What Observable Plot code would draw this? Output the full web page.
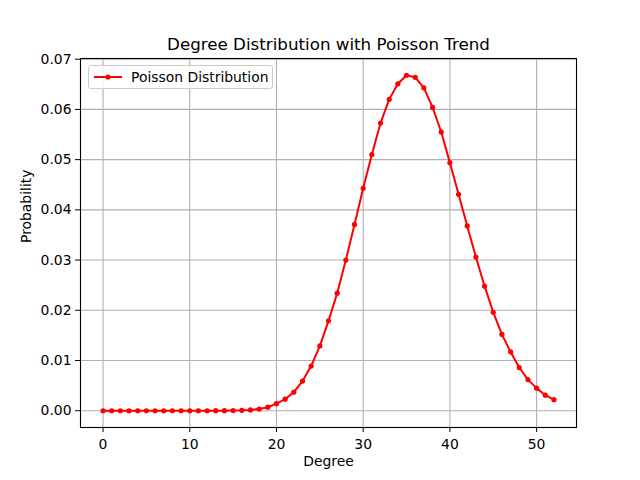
<!DOCTYPE html>
<html>
<head>
<meta charset="utf-8">
<script src="https://cdn.jsdelivr.net/npm/d3@7"></script>
<script src="https://cdn.jsdelivr.net/npm/@observablehq/plot@0.6"></script>
<style>
  body { margin: 0; background: white; }
  #wrap { position: relative; width: 640px; height: 480px; font-family: "DejaVu Sans", sans-serif; }
  #legend { position: absolute; left: 88px; top: 65px; width: 185px; height: 24px; border: 1px solid #cccccc; border-radius: 3px; background: rgba(255,255,255,0.8); box-sizing: border-box; }
  #legend svg { position: absolute; left: 4px; top: 4px; }
  #legend span { position: absolute; left: 42px; top: 3px; font-size: 13.9px; color: #000; white-space: nowrap; }
</style>
</head>
<body>
<div id="wrap"><div id="chart"></div>
<div id="legend"><svg width="30" height="14"><line x1="1" y1="7" x2="29" y2="7" stroke="red" stroke-width="2"/><circle cx="15" cy="7" r="2.6" fill="red"/></svg><span>Poisson Distribution</span></div>
</div>
<script>
const title = "Degree Distribution with Poisson Trend";
const xLabel = "Degree";
const yLabel = "Probability";
const seriesName = "Poisson Distribution";
const degrees = [0,1,2,3,4,5,6,7,8,9,10,11,12,13,14,15,16,17,18,19,20,21,22,23,24,25,26,27,28,29,30,31,32,33,34,35,36,37,38,39,40,41,42,43,44,45,46,47,48,49,50,51,52];
const probabilities = [
  0, 0, 0, 0, 0, 0, 0, 0, 0, 0,
  0, 0, 0, 0.00001, 0.00002, 0.00004, 0.00008, 0.00016, 0.00034, 0.0007,
  0.0014, 0.0023, 0.0037, 0.0059, 0.0089, 0.0129, 0.0179, 0.0234, 0.0300, 0.0371,
  0.0443, 0.0510, 0.0573, 0.0620, 0.0651, 0.0668, 0.0664, 0.0643, 0.0604, 0.0555,
  0.0494, 0.0431, 0.0368, 0.0306, 0.0248, 0.0196, 0.0152, 0.0117, 0.0086, 0.0062,
  0.0045, 0.0031, 0.0022
];
const xTicks = [0, 10, 20, 30, 40, 50];
const yTicks = [0, 0.01, 0.02, 0.03, 0.04, 0.05, 0.06, 0.07];

const data = degrees.map((d, i) => ({degree: d, p: probabilities[i]}));
const yMax = d3.max(probabilities);
const xPad = (d3.max(degrees) - d3.min(degrees)) * 0.05;
const yPad = yMax * 0.05;

const chart = Plot.plot({
  width: 640, height: 480,
  marginLeft: 80, marginRight: 64, marginTop: 58, marginBottom: 53,
  style: {fontFamily: "DejaVu Sans, sans-serif", fontSize: "13.9px", color: "black", background: "white"},
  x: {domain: [d3.min(degrees) - xPad, d3.max(degrees) + xPad]},
  y: {domain: [-yPad, yMax + yPad]},
  marks: [
    Plot.gridX(xTicks, {stroke: "#b0b0b0", strokeOpacity: 1, strokeWidth: 1.1}),
    Plot.gridY(yTicks, {stroke: "#b0b0b0", strokeOpacity: 1, strokeWidth: 1.1}),
    Plot.axisX(xTicks, {tickSize: 5, tickPadding: 7, tickFormat: d => String(d), label: null, fontSize: 13.9}),
    Plot.axisY(yTicks, {tickSize: 5, tickPadding: 4, tickFormat: d3.format(".2f"), label: null, fontSize: 13.9}),
    Plot.line(data, {x: "degree", y: "p", stroke: "red", strokeWidth: 2}),
    Plot.dot(data, {x: "degree", y: "p", fill: "red", r: 2.6}),
    Plot.frame({stroke: "black", strokeWidth: 1.1}),
    Plot.text([title], {frameAnchor: "top", dy: -20, fontSize: 16.7}),
    Plot.text([xLabel], {frameAnchor: "bottom", dy: 38, fontSize: 13.9}),
    Plot.text([yLabel], {frameAnchor: "left", dx: -54, rotate: -90, fontSize: 13.9})
  ]
});
document.getElementById("chart").appendChild(chart);
</script>
</body>
</html>
